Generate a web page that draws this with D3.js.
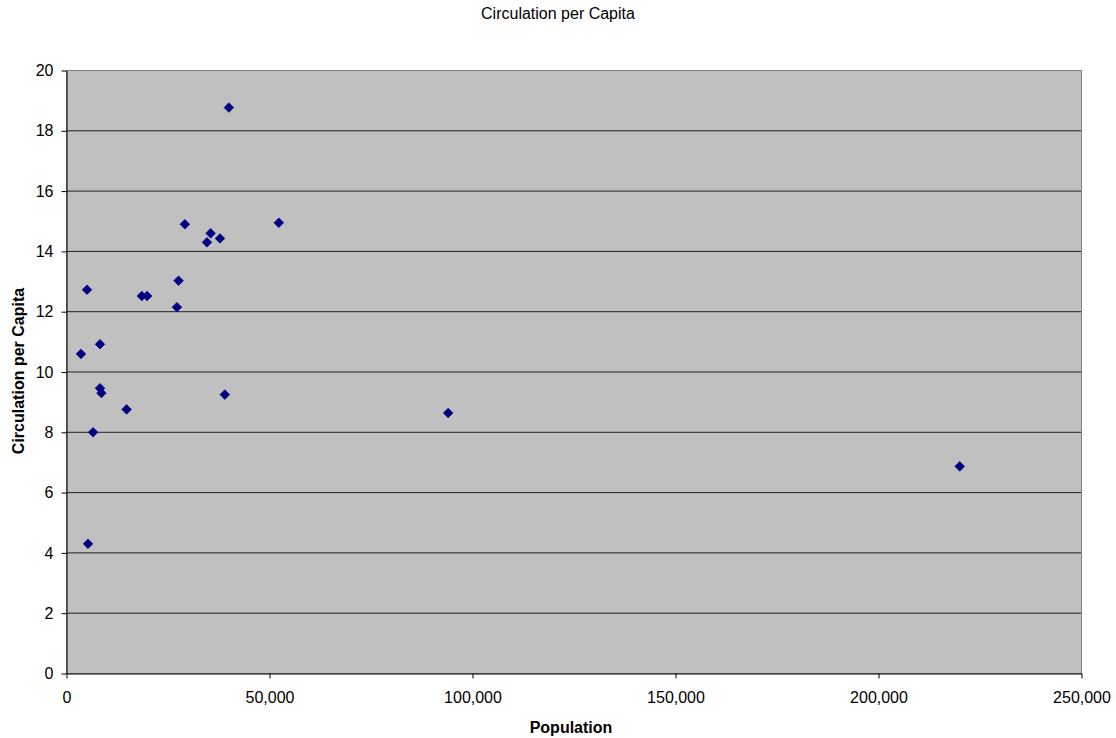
<!DOCTYPE html>
<html><head><meta charset="utf-8">
<script src="https://cdn.jsdelivr.net/npm/d3@7"></script>
<style>body{margin:0;background:#fff}text{font-family:"Liberation Sans",Arial,sans-serif}</style>
</head><body><svg id="c" width="1116" height="738"></svg>
<script>
const population = [3570, 5050, 5300, 6550, 8250, 8250, 8600, 14800, 18550, 19850, 27200, 27600, 29150, 34600, 35500, 37800, 39000, 40000, 52300, 94000, 220000];
const circulation = [10.6, 12.73, 4.3, 8.0, 10.92, 9.46, 9.3, 8.76, 12.52, 12.52, 12.15, 13.03, 14.9, 14.3, 14.6, 14.43, 9.25, 18.77, 14.95, 8.64, 6.87];
const xTicks = [0, 50000, 100000, 150000, 200000, 250000];
const yTicks = [0, 2, 4, 6, 8, 10, 12, 14, 16, 18, 20];
const title = "Circulation per Capita";
const xLabel = "Population";
const yLabel = "Circulation per Capita";

const svg = d3.select("#c");
const L = 66.5, R = 1081.5, T = 70.5, B = 673.5;
const x = d3.scaleLinear().domain([0, 250000]).range([L, R]);
const y = d3.scaleLinear().domain([0, 20]).range([B, T]);

svg.append("rect").attr("x", L).attr("y", T).attr("width", R - L).attr("height", B - T).attr("fill", "#C0C0C0");

svg.append("g").selectAll("line").data(yTicks.filter(d => d > 0)).join("line")
  .attr("x1", L).attr("x2", R).attr("y1", d => y(d)).attr("y2", d => y(d))
  .attr("stroke", "#222").attr("stroke-width", 1);
svg.append("rect").attr("x", L).attr("y", T).attr("width", R - L).attr("height", B - T)
  .attr("fill", "none").attr("stroke", "#808080").attr("stroke-width", 1);

const fmt = d3.format(",");
const xAxis = svg.append("g").attr("transform", `translate(0,${B})`)
  .call(d3.axisBottom(x).tickValues(xTicks).tickFormat(fmt).tickSize(5).tickSizeOuter(0).tickPadding(13));
const yAxis = svg.append("g").attr("transform", `translate(${L},0)`)
  .call(d3.axisLeft(y).tickValues(yTicks).tickSize(5).tickSizeOuter(0).tickPadding(8));
[xAxis, yAxis].forEach(g => {
  g.selectAll("text").attr("font-size", 16).attr("fill", "#000").attr("font-family", "Liberation Sans, Arial, sans-serif");
  g.selectAll("line,path").attr("stroke", "#000");
});

const sym = d3.symbol().type(d3.symbolDiamond2).size(58);
svg.append("g").selectAll("path").data(population.map((p, i) => [p, circulation[i]])).join("path")
  .attr("d", sym).attr("transform", d => `translate(${x(d[0])},${y(d[1])})`)
  .attr("fill", "#000080").attr("stroke", "#000080").attr("stroke-width", 0.8);

svg.append("text").attr("x", 558).attr("y", 18.5).attr("text-anchor", "middle").attr("font-size", 16).text(title);
svg.append("text").attr("x", 571).attr("y", 733).attr("text-anchor", "middle").attr("font-size", 16).attr("font-weight", "bold").text(xLabel);
svg.append("text").attr("transform", `translate(23.5,371) rotate(-90)`).attr("text-anchor", "middle").attr("font-size", 16).attr("font-weight", "bold").text(yLabel);
</script></body></html>
